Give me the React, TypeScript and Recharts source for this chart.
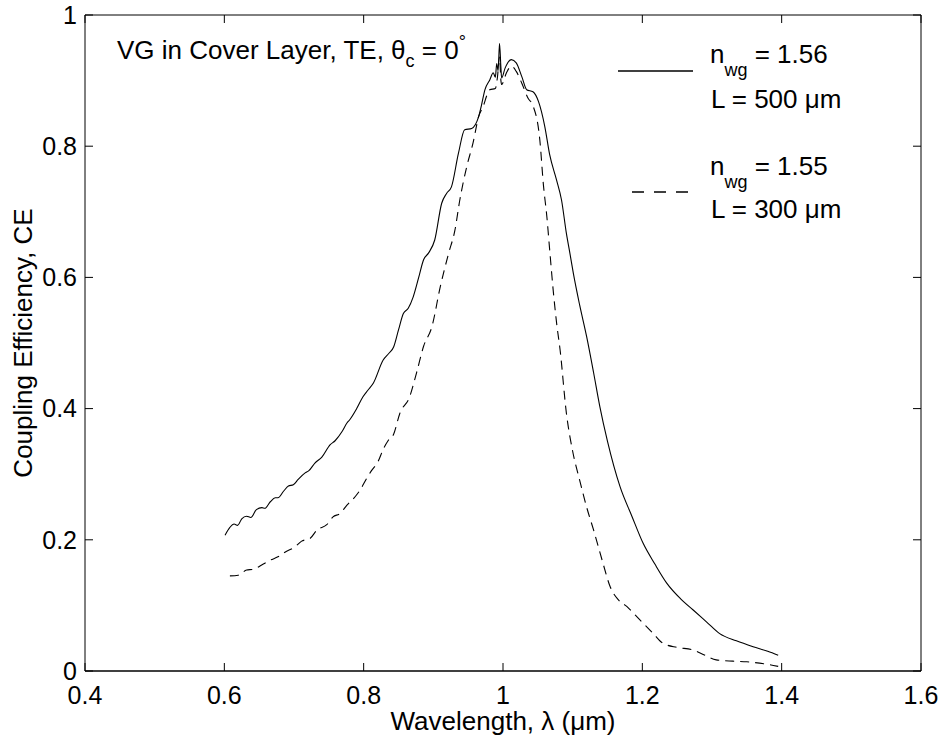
import { LineChart, Line, XAxis, YAxis } from "recharts";

// solid curve: n_wg = 1.56, L = 500 um
const solidLambda = [
  0.601, 0.608, 0.614, 0.619, 0.625, 0.632, 0.638, 0.646, 0.654, 0.658, 0.666, 0.673, 0.677,
  0.685, 0.692, 0.699, 0.706, 0.716, 0.721, 0.73, 0.74, 0.752, 0.759, 0.769, 0.776, 0.78,
  0.79, 0.799, 0.806, 0.814, 0.828, 0.836, 0.843, 0.85, 0.857, 0.864, 0.871, 0.879, 0.886,
  0.893, 0.902, 0.912, 0.919, 0.926, 0.936, 0.945, 0.955, 0.965, 0.969, 0.974, 0.981, 0.986,
  0.989, 0.991, 0.993, 0.995, 0.997, 0.998, 1.003, 1.012, 1.019, 1.027, 1.034, 1.043, 1.051,
  1.06, 1.067, 1.077, 1.084, 1.091, 1.096, 1.101, 1.11, 1.12, 1.13, 1.139, 1.15, 1.168,
  1.185, 1.201, 1.218, 1.235, 1.255, 1.273, 1.292, 1.311, 1.335, 1.359, 1.38, 1.395,
];
const solidCE = [
  0.207, 0.219, 0.224, 0.222, 0.232, 0.236, 0.234, 0.246, 0.249, 0.248, 0.258, 0.264, 0.264,
  0.274, 0.282, 0.284, 0.292, 0.302, 0.305, 0.317, 0.326, 0.345, 0.351, 0.365, 0.378, 0.383,
  0.4, 0.418, 0.428, 0.439, 0.474, 0.484, 0.494, 0.52, 0.545, 0.553, 0.57, 0.6, 0.627,
  0.637, 0.657, 0.713, 0.728, 0.738, 0.789, 0.825, 0.827, 0.845, 0.862, 0.886, 0.901, 0.912,
  0.905, 0.926, 0.915, 0.957, 0.92, 0.904, 0.919, 0.932, 0.927, 0.906, 0.886, 0.883, 0.868,
  0.83, 0.787, 0.748, 0.718, 0.667, 0.637, 0.606, 0.558, 0.51, 0.455, 0.403, 0.35, 0.281,
  0.236, 0.195, 0.163, 0.134, 0.11, 0.093, 0.075, 0.057, 0.046, 0.037, 0.03, 0.024,
];

// dashed curve: n_wg = 1.55, L = 300 um
const dashedLambda = [
  0.608, 0.62, 0.632, 0.641, 0.656, 0.666, 0.677, 0.687, 0.701, 0.711, 0.723, 0.733, 0.747,
  0.756, 0.766, 0.776, 0.788, 0.795, 0.804, 0.811, 0.821, 0.828, 0.835, 0.843, 0.852, 0.866,
  0.876, 0.886, 0.898, 0.91, 0.922, 0.931, 0.938, 0.948, 0.957, 0.965, 0.972, 0.977, 0.981,
  0.989, 0.992, 0.995, 0.997, 0.998, 1.005, 1.012, 1.019, 1.027, 1.036, 1.043, 1.053, 1.058,
  1.063, 1.067, 1.072, 1.077, 1.082, 1.091, 1.1, 1.11, 1.12, 1.13, 1.142, 1.154, 1.166,
  1.178, 1.19, 1.201, 1.215, 1.23, 1.25, 1.273, 1.29, 1.306, 1.33, 1.35, 1.375, 1.395,
];
const dashedCE = [
  0.145, 0.146, 0.154, 0.155, 0.163, 0.169, 0.174, 0.181, 0.189, 0.198, 0.202, 0.215, 0.223,
  0.235, 0.24, 0.253, 0.266, 0.276, 0.293, 0.305, 0.32, 0.338, 0.351, 0.361, 0.393, 0.418,
  0.455, 0.495, 0.525, 0.586, 0.637, 0.672, 0.718, 0.769, 0.805, 0.845, 0.862, 0.878, 0.886,
  0.888, 0.905, 0.936, 0.9, 0.894, 0.912, 0.922, 0.914, 0.896, 0.873, 0.862, 0.808, 0.741,
  0.692, 0.642, 0.581, 0.53, 0.489, 0.393, 0.335, 0.291, 0.25, 0.215, 0.17, 0.128, 0.108,
  0.098, 0.085, 0.073, 0.058, 0.042, 0.036, 0.032, 0.024, 0.017, 0.015, 0.014, 0.011, 0.007,
];

const xTicks = [0.4, 0.6, 0.8, 1, 1.2, 1.4, 1.6];
const yTicks = [0, 0.2, 0.4, 0.6, 0.8, 1];

const solidData = solidLambda.map((x, i) => ({ x, ce: solidCE[i] }));
const dashedData = dashedLambda.map((x, i) => ({ x, ce: dashedCE[i] }));

const font = "'Liberation Sans', Arial, Helvetica, sans-serif";
const tickStyle = { fontSize: 25, fill: "#000", fontFamily: font };
const noLabel = () => <text />;

export default function App() {
  return (
    <div style={{ position: "absolute", left: 0, top: 0, width: 942, height: 740, background: "#fff" }}>
      <LineChart width={942} height={740} margin={{ top: 15, right: 21, bottom: 0, left: 0 }}>
        {/* labelled axes */}
        <XAxis
          type="number"
          dataKey="x"
          domain={[0.4, 1.6]}
          ticks={xTicks}
          tickFormatter={(v) => String(v)}
          tickLine={false}
          tickSize={0}
          tickMargin={15}
          height={69}
          stroke="#000"
          strokeWidth={1.5}
          tick={tickStyle}
          allowDataOverflow
        />
        <YAxis
          type="number"
          domain={[0, 1]}
          ticks={yTicks}
          tickFormatter={(v) => String(v)}
          tickLine={false}
          tickSize={0}
          tickMargin={8}
          width={85}
          stroke="#000"
          tick={tickStyle}
          allowDataOverflow
        />
        {/* inward ticks and box */}
        <XAxis
          xAxisId="bm"
          orientation="bottom"
          mirror
          type="number"
          dataKey="x"
          domain={[0.4, 1.6]}
          ticks={xTicks}
          tickSize={8}
          axisLine={false}
          stroke="#000"
          tick={noLabel}
          allowDataOverflow
        />
        <YAxis
          yAxisId="lm"
          orientation="left"
          mirror
          type="number"
          domain={[0, 1]}
          ticks={yTicks}
          tickSize={8}
          axisLine={false}
          stroke="#000"
          tick={noLabel}
          allowDataOverflow
        />
        <XAxis
          xAxisId="top"
          orientation="top"
          mirror
          type="number"
          dataKey="x"
          domain={[0.4, 1.6]}
          ticks={xTicks}
          tickSize={8}
          stroke="#000"
          tick={noLabel}
          allowDataOverflow
        />
        <YAxis
          yAxisId="right"
          orientation="right"
          mirror
          type="number"
          domain={[0, 1]}
          ticks={yTicks}
          tickSize={8}
          stroke="#000"
          tick={noLabel}
          allowDataOverflow
        />
        <Line
          data={solidData}
          dataKey="ce"
          type="monotone"
          stroke="#000"
          strokeWidth={1.1}
          dot={false}
          isAnimationActive={false}
        />
        <Line
          data={dashedData}
          dataKey="ce"
          type="monotone"
          stroke="#000"
          strokeWidth={1.1}
          strokeDasharray="9 6"
          dot={false}
          isAnimationActive={false}
        />
        <Line
          data={solidData}
          dataKey="ce"
          xAxisId="bm"
          yAxisId="lm"
          stroke="none"
          dot={false}
          isAnimationActive={false}
        />
        <Line
          data={solidData}
          dataKey="ce"
          xAxisId="top"
          yAxisId="right"
          stroke="none"
          dot={false}
          isAnimationActive={false}
        />
      </LineChart>
      <svg
        width={942}
        height={740}
        style={{ position: "absolute", left: 0, top: 0, pointerEvents: "none" }}
        fontFamily={font}
        fill="#000"
      >
        <text x={117} y={59} fontSize={26}>
          VG in Cover Layer, TE, θ
          <tspan dy={8} fontSize={18}>c</tspan>
          <tspan dy={-8}> = 0</tspan>
          <tspan dy={-11} fontSize={18}>°</tspan>
        </text>

        <line x1={618} y1={71} x2={693} y2={71} stroke="#000" strokeWidth={1.3} />
        <text x={710} y={63} fontSize={26}>
          n<tspan dy={13} fontSize={18}>wg</tspan>
          <tspan dy={-13}> = 1.56</tspan>
        </text>
        <text x={711} y={108} fontSize={26}>L = 500 μm</text>

        <line x1={632} y1={192} x2={688} y2={192} stroke="#000" strokeWidth={1.3} strokeDasharray="12 10" />
        <text x={710} y={175} fontSize={26}>
          n<tspan dy={13} fontSize={18}>wg</tspan>
          <tspan dy={-13}> = 1.55</tspan>
        </text>
        <text x={711} y={218} fontSize={26}>L = 300 μm</text>

        <text x={503} y={730} fontSize={26} textAnchor="middle">
          Wavelength, λ (μm)
        </text>
        <text x={32} y={343} fontSize={26} textAnchor="middle" transform="rotate(-90 32 343)">
          Coupling Efficiency, CE
        </text>
      </svg>
    </div>
  );
}
